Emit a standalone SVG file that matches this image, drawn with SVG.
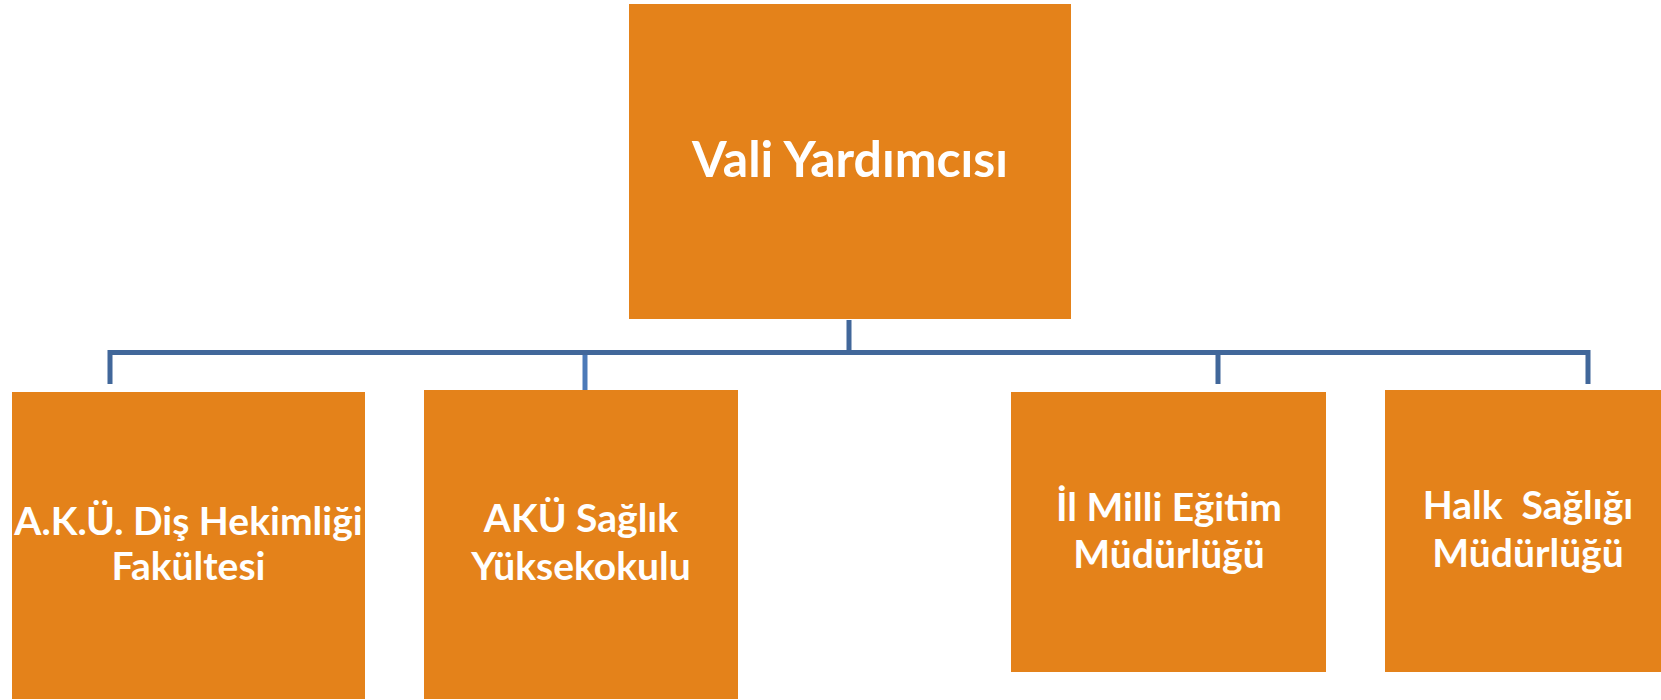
<svg xmlns="http://www.w3.org/2000/svg" width="1661" height="700" viewBox="0 0 1661 700">
<style>
.box{fill:#E4821A}
.t{font-family:Lato,"Open Sans","Liberation Sans",sans-serif;font-weight:bold;fill:#fff;text-anchor:middle}
.top{font-size:50px}
.ch{font-size:39px}
.ln{stroke:#41679A;stroke-width:5;fill:none}
</style>
<rect width="1661" height="700" fill="#fff"/>
<g id="connectors">
<path class="ln" d="M849 320 V353 M110 384 V352.5 H1588 V384 M1218 353 V384"/>
<path d="M585 355 V390" stroke="#4C7AB8" stroke-width="5" fill="none"/>
</g>
<g id="vali">
<rect class="box" x="629" y="4" width="442" height="315"/>
<text class="t top" x="850" y="177">Vali Yardımcısı</text>
</g>
<g id="aku-dis">
<rect class="box" x="12" y="392" width="353" height="307"/>
<text class="t ch" x="188.5" y="535">A.K.Ü. Diş Hekimliği</text>
<text class="t ch" x="188.5" y="580">Fakültesi</text>
</g>
<g id="aku-saglik">
<rect class="box" x="424" y="390" width="314" height="309"/>
<text class="t ch" x="581" y="532">AKÜ Sağlık</text>
<text class="t ch" x="581" y="580">Yüksekokulu</text>
</g>
<g id="milli-egitim">
<rect class="box" x="1011" y="392" width="315" height="280"/>
<text class="t ch" x="1169" y="521">İl Milli Eğitim</text>
<text class="t ch" x="1169" y="568">Müdürlüğü</text>
</g>
<g id="halk-sagligi">
<rect class="box" x="1385" y="390" width="290" height="282"/>
<text class="t ch" x="1528" y="519" xml:space="preserve">Halk  Sağlığı</text>
<text class="t ch" x="1528" y="567">Müdürlüğü</text>
</g>
</svg>
